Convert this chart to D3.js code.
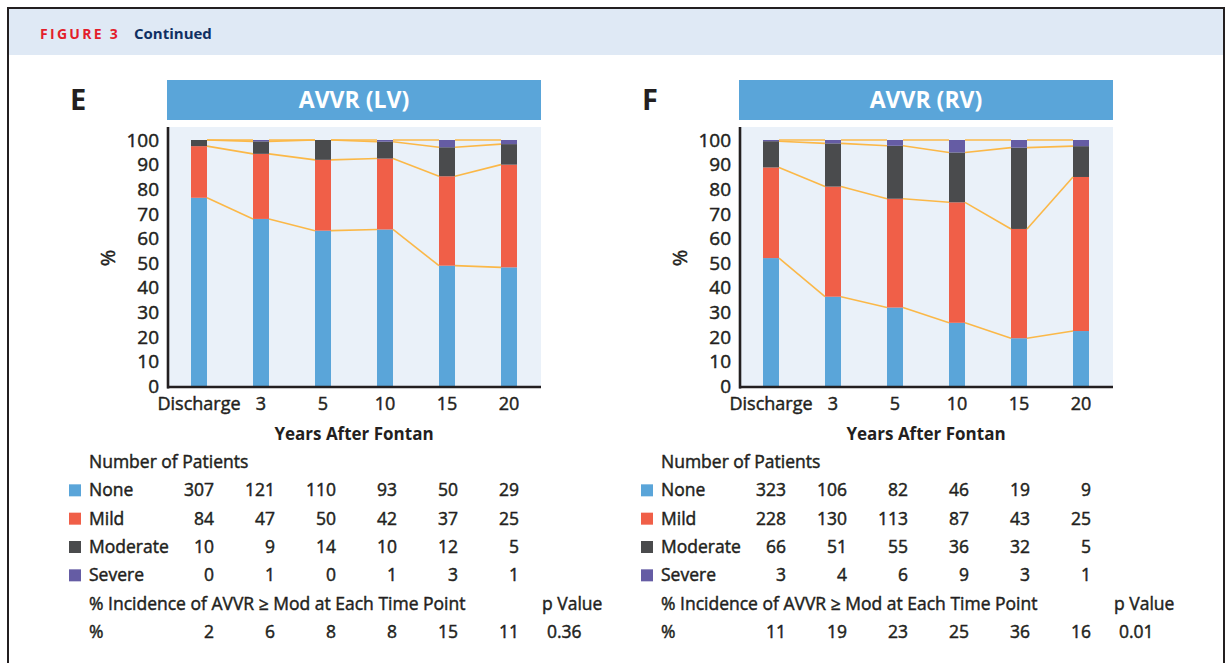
<!DOCTYPE html>
<html>
<head>
<meta charset="utf-8">
<script src="https://cdn.jsdelivr.net/npm/d3@7"></script>
<style>
  html, body { margin: 0; padding: 0; background: #fff; }
  svg { display: block; }
  text { font-family: "Open Sans", "Noto Sans", sans-serif; fill: #231f20; }
  text.reg { stroke: #231f20; stroke-width: 0.45px; }
</style>
</head>
<body>
<svg id="fig" width="1226" height="663"></svg>
<script>
// Time points after the Fontan operation
const timePoints = ["Discharge", "3", "5", "10", "15", "20"];

// Severity categories (bottom to top in each stacked bar)
const severities = ["None", "Mild", "Moderate", "Severe"];
const severityColors = ["#5aa5d9", "#f05f48", "#4a4b4d", "#655ca4"];

// AVVR (LV) – number of patients per severity
const lvNone     = [307, 121, 110, 93, 50, 29];
const lvMild     = [84, 47, 50, 42, 37, 25];
const lvModerate = [10, 9, 14, 10, 12, 5];
const lvSevere   = [0, 1, 0, 1, 3, 1];
const lvIncidence = ["2", "6", "8", "8", "15", "11"];
const lvPValue = "0.36";

// AVVR (RV) – number of patients per severity
const rvNone     = [323, 106, 82, 46, 19, 9];
const rvMild     = [228, 130, 113, 87, 43, 25];
const rvModerate = [66, 51, 55, 36, 32, 5];
const rvSevere   = [3, 4, 6, 9, 3, 1];
const rvIncidence = ["11", "19", "23", "25", "36", "16"];
const rvPValue = "0.01";

const yTicks = [0, 10, 20, 30, 40, 50, 60, 70, 80, 90, 100];

const panels = [
  { letter: "E", title: "AVVR (LV)", counts: [lvNone, lvMild, lvModerate, lvSevere],
    incidence: lvIncidence, p: lvPValue, dx: 0 },
  { letter: "F", title: "AVVR (RV)", counts: [rvNone, rvMild, rvModerate, rvSevere],
    incidence: rvIncidence, p: rvPValue, dx: 572 }
];

const svg = d3.select("#fig");

// Figure frame and header band
svg.append("rect").attr("x", 9).attr("y", 9).attr("width", 1214).attr("height", 46)
  .attr("fill", "#dfe9f5");
svg.append("rect").attr("x", 8).attr("y", 8).attr("width", 1216).attr("height", 700)
  .attr("fill", "none").attr("stroke", "#231f20").attr("stroke-width", 2);
svg.append("text").attr("x", 40).attr("y", 38.5)
  .style("font-size", "14px").style("font-weight", 700).style("letter-spacing", "2.3px")
  .style("fill", "#e31d2b").text("FIGURE 3");
svg.append("text").attr("x", 134).attr("y", 38.5)
  .style("font-size", "15px").style("font-weight", 700)
  .style("fill", "#0f2f62").text("Continued");

// Vertical scale shared by both panels
const y = d3.scaleLinear().domain([0, 100]).range([386.5, 140]);
const plotTop = 127, plotBottom = 387;
const fs = "17.5px";

panels.forEach(p => {
  const g = svg.append("g").attr("transform", `translate(${p.dx},0)`);
  const x = d3.scaleBand().domain(timePoints).range([168, 540]);
  const barW = 16;

  // Percent stacks from patient counts
  const rows = timePoints.map((t, i) => {
    const row = { t };
    severities.forEach((s, k) => row[s] = p.counts[k][i]);
    const total = severities.reduce((a, s) => a + row[s], 0);
    severities.forEach(s => row[s] = row[s] / total * 100);
    return row;
  });
  const series = d3.stack().keys(severities)(rows);

  // Panel letter and title bar
  g.append("text").attr("x", 70).attr("y", 110)
    .style("font-size", "29px").style("font-weight", 700).text(p.letter);
  g.append("rect").attr("x", 167).attr("y", 80).attr("width", 374).attr("height", 40)
    .attr("fill", "#5aa5d9");
  g.append("text").attr("x", 354).attr("y", 108).attr("text-anchor", "middle")
    .style("font-size", "23px").style("font-weight", 700).style("fill", "#fff")
    .text(p.title);

  // Plot background
  g.append("rect").attr("x", 168).attr("y", plotTop).attr("width", 373)
    .attr("height", plotBottom - plotTop).attr("fill", "#eaf1f9");

  // Stacked bars
  series.forEach((s, k) => {
    g.append("g").attr("fill", severityColors[k])
      .selectAll("rect").data(s).join("rect")
      .attr("x", d => x(d.data.t) + x.bandwidth() / 2 - barW / 2)
      .attr("width", barW)
      .attr("y", d => y(d[1]))
      .attr("height", d => Math.max(0, y(d[0]) - y(d[1])));
  });

  // Connector lines between the tops of each stack level
  series.forEach(s => {
    for (let i = 0; i < s.length - 1; i++) {
      g.append("line")
        .attr("x1", x(s[i].data.t) + x.bandwidth() / 2 + barW / 2)
        .attr("y1", y(s[i][1]))
        .attr("x2", x(s[i + 1].data.t) + x.bandwidth() / 2 - barW / 2)
        .attr("y2", y(s[i + 1][1]))
        .attr("stroke", "#fbb848").attr("stroke-width", 1.6);
    }
  });

  // Axes
  const yAxis = g.append("g").attr("transform", "translate(167,0)")
    .call(d3.axisLeft(y).tickValues(yTicks).tickSize(0).tickPadding(8));
  yAxis.select(".domain").remove();
  yAxis.selectAll("text").classed("reg", true)
    .style("font-size", "19px").style("font-family", null).attr("fill", null);

  const xAxis = g.append("g").attr("transform", `translate(0,${plotBottom})`)
    .call(d3.axisBottom(x).tickSize(0).tickPadding(10));
  xAxis.select(".domain").remove();
  xAxis.selectAll("text").classed("reg", true)
    .style("font-size", "18px").style("font-family", null).attr("fill", null);

  g.append("line").attr("x1", 168).attr("x2", 168).attr("y1", plotTop).attr("y2", plotBottom + 1.5)
    .attr("stroke", "#231f20").attr("stroke-width", 2.6);
  g.append("line").attr("x1", 167).attr("x2", 541).attr("y1", plotBottom).attr("y2", plotBottom)
    .attr("stroke", "#231f20").attr("stroke-width", 2.6);

  g.append("text").attr("class", "reg").attr("transform", "translate(115,258) rotate(-90)")
    .attr("text-anchor", "middle").style("font-size", "20px").text("%");
  g.append("text").attr("x", 354).attr("y", 440).attr("text-anchor", "middle")
    .style("font-size", "17px").style("font-weight", 700).text("Years After Fontan");

  // Patient table
  const col = d3.scalePoint().domain(timePoints).range([214, 519]);
  const rowY = d3.scalePoint().domain(["head", ...severities, "incHead", "inc"]).range([468, 638]);

  g.append("text").attr("class", "reg").attr("x", 89).attr("y", rowY("head")).style("font-size", fs)
    .text("Number of Patients");
  severities.forEach((s, k) => {
    g.append("rect").attr("x", 69).attr("y", rowY(s) - 12).attr("width", 12).attr("height", 12)
      .attr("fill", severityColors[k]);
    g.append("text").attr("class", "reg").attr("x", 89).attr("y", rowY(s)).style("font-size", fs).text(s);
    g.selectAll(null).data(p.counts[k]).join("text").attr("class", "reg")
      .attr("x", (d, i) => col(timePoints[i])).attr("y", rowY(s))
      .attr("text-anchor", "end").style("font-size", fs).text(d => d);
  });
  g.append("text").attr("class", "reg").attr("x", 89).attr("y", rowY("incHead")).style("font-size", fs)
    .text("% Incidence of AVVR \u2265 Mod at Each Time Point");
  g.append("text").attr("class", "reg").attr("x", 542).attr("y", rowY("incHead")).style("font-size", fs)
    .text("p Value");
  g.append("text").attr("class", "reg").attr("x", 89).attr("y", rowY("inc")).style("font-size", fs).text("%");
  g.selectAll(null).data(p.incidence).join("text").attr("class", "reg")
    .attr("x", (d, i) => col(timePoints[i])).attr("y", rowY("inc"))
    .attr("text-anchor", "end").style("font-size", fs).text(d => d);
  g.append("text").attr("class", "reg").attr("x", 547).attr("y", rowY("inc")).style("font-size", fs).text(p.p);
});
</script>
</body>
</html>
